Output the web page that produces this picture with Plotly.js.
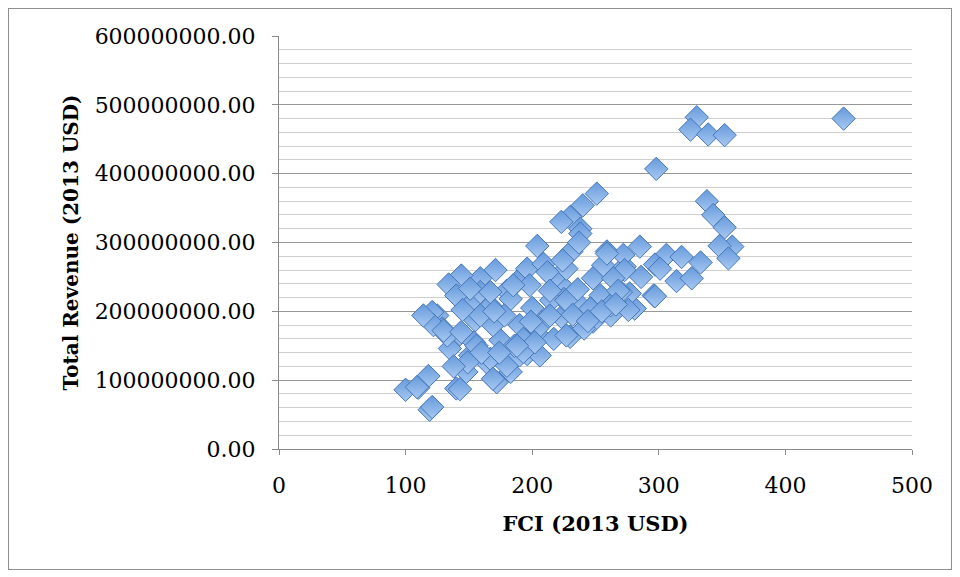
<!DOCTYPE html>
<html>
<head>
<meta charset="utf-8">
<script src="https://cdn.plot.ly/plotly-3.0.1.min.js"></script>
<style>
  html, body { margin: 0; padding: 0; background: #ffffff; }
  #chart { position: absolute; left: 0; top: 0; width: 960px; height: 577px; }
  #frame { position: absolute; left: 8px; top: 8px; width: 942px; height: 560px;
           border: 1px solid #8e8e8e; pointer-events: none; }
</style>
</head>
<body>
<div id="chart"></div>
<div id="frame"></div>
<script>
// FCI per plant (2013 USD)
const fci = [
  446, 330, 325, 339, 352, 298, 338, 343, 352, 358, 348, 355, 285, 306, 297, 318,
  333, 314, 326, 296, 281, 273, 277, 251, 240, 230, 223, 238, 204, 231, 259, 272,
  256, 273, 270, 276, 254, 222, 246, 230, 223, 196, 209, 217, 171, 159, 144, 134,
  188, 180, 152, 167, 125, 121, 129, 155, 190, 211, 205, 196, 175, 143, 135, 151,
  164, 172, 185, 118, 110, 100, 119, 140, 148, 183, 206, 248, 262, 225, 235, 198,
  159, 140, 133, 122, 193, 217, 154, 169, 227, 248, 264, 183, 224, 114, 130, 178,
  144, 156, 149, 167, 180, 109, 121, 143, 169, 190, 151, 167, 159, 238, 259, 237,
  185, 215, 227, 246, 214, 204, 227, 241, 193, 200, 297, 262, 268, 170, 236, 212,
  145, 138, 160, 186, 202, 174, 232, 244, 255, 266, 286, 301, 188, 199, 214
];

// Total revenue per plant (2013 USD)
const revenue = [
  480e6, 482e6, 464e6, 457e6, 456e6, 407e6, 360e6, 340e6, 322e6, 294e6, 295e6, 277e6, 294e6, 282e6, 268e6, 279e6,
  271e6, 244e6, 248e6, 223e6, 204e6, 265e6, 226e6, 371e6, 354e6, 337e6, 330e6, 320e6, 295e6, 287e6, 287e6, 282e6,
  267e6, 260e6, 228e6, 202e6, 223e6, 240e6, 204e6, 163e6, 192e6, 262e6, 269e6, 248e6, 260e6, 248e6, 252e6, 239e6,
  243e6, 230e6, 213e6, 208e6, 194e6, 199e6, 175e6, 187e6, 180e6, 189e6, 165e6, 138e6, 158e6, 167e6, 146e6, 136e6,
  126e6, 97e6, 129e6, 106e6, 89e6, 86e6, 57e6, 88e6, 112e6, 112e6, 136e6, 185e6, 194e6, 218e6, 214e6, 238e6,
  228e6, 223e6, 165e6, 180e6, 160e6, 160e6, 155e6, 180e6, 262e6, 248e6, 248e6, 218e6, 274e6, 194e6, 172e6, 194e6,
  170e6, 150e6, 126e6, 131e6, 121e6, 90e6, 61e6, 87e6, 102e6, 136e6, 233e6, 228e6, 194e6, 313e6, 284e6, 300e6,
  238e6, 216e6, 216e6, 204e6, 194e6, 175e6, 165e6, 175e6, 141e6, 205e6, 222e6, 209e6, 230e6, 200e6, 232e6, 257e6,
  202e6, 120e6, 140e6, 150e6, 155e6, 140e6, 195e6, 186e6, 200e6, 210e6, 250e6, 262e6, 150e6, 185e6, 230e6
];

const trace = {
  type: 'scatter',
  mode: 'markers',
  x: fci,
  y: revenue,
  marker: {
    symbol: 'diamond',
    size: 18,
    color: '#6599dc',
    gradient: { type: 'vertical', color: '#a8c9f1' },
    line: { color: '#4676b6', width: 1 }
  },
  hoverinfo: 'x+y'
};

const serif = 'DejaVu Serif, Liberation Serif, serif';

const layout = {
  width: 960,
  height: 577,
  margin: { l: 279, r: 48, t: 36, b: 128, pad: 0 },
  paper_bgcolor: '#ffffff',
  plot_bgcolor: '#ffffff',
  showlegend: false,
  font: { family: serif, size: 22, color: '#000000' },
  xaxis: {
    range: [0, 500],
    dtick: 100,
    tick0: 0,
    showgrid: false,
    zeroline: false,
    showline: true,
    linecolor: '#8a8a8a',
    linewidth: 1,
    ticks: 'outside',
    ticklen: 5,
    tickcolor: '#8a8a8a',
    ticklabelstandoff: 12,
    tickfont: { family: serif, size: 22 },
    title: { text: '<b>FCI (2013 USD)</b>', font: { family: serif, size: 21 }, standoff: 18 },
    fixedrange: true
  },
  yaxis: {
    range: [0, 600e6],
    dtick: 100e6,
    tick0: 0,
    tickformat: '.2f',
    showgrid: true,
    gridcolor: '#979797',
    gridwidth: 1,
    minor: { dtick: 20e6, showgrid: true, gridcolor: '#cfcfcf', gridwidth: 1, ticks: '' },
    zeroline: false,
    showline: true,
    linecolor: '#8a8a8a',
    linewidth: 1,
    ticks: 'outside',
    ticklen: 6,
    tickcolor: '#8a8a8a',
    ticklabelstandoff: 12,
    tickfont: { family: serif, size: 22 },
    title: { text: '<b>Total Revenue (2013 USD)</b>', font: { family: serif, size: 20 }, standoff: 10 },
    fixedrange: true
  }
};

Plotly.newPlot('chart', [trace], layout, { staticPlot: true, displayModeBar: false });
</script>
</body>
</html>
